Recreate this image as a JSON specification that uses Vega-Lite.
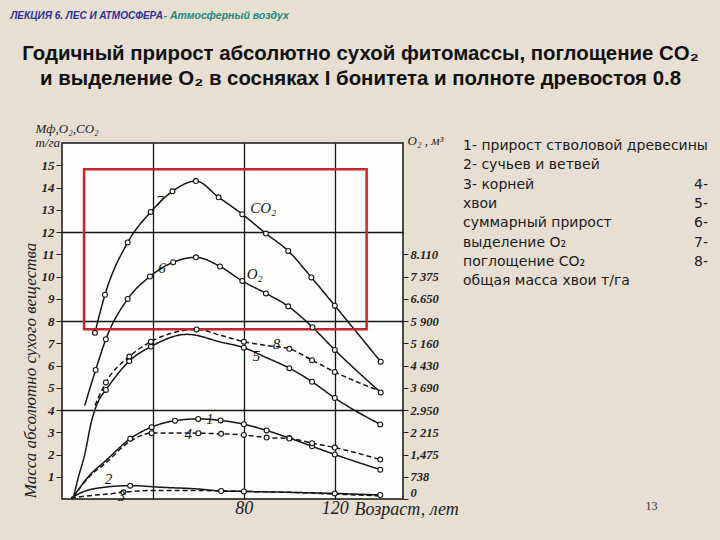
{
  "$schema": "https://vega.github.io/schema/vega-lite/v6.json",
  "autosize": {"type": "none"},
  "width": 341,
  "height": 356,
  "padding": {"left": 62, "top": 143, "right": 317, "bottom": 41},
  "background": "#e7dfd2",
  "config": {
    "view": {"fill": "#fdfdfb", "stroke": "#151515", "strokeWidth": 1.5},
    "axis": {"titleLimit": 1000, "labelLimit": 1000}
  },
  "datasets": {
    "curves": [
      {"s": "1", "age": 5, "v": 0.1, "pt": false},
      {"s": "1", "age": 12, "v": 1.05, "pt": false},
      {"s": "1", "age": 19, "v": 1.7, "pt": false},
      {"s": "1", "age": 30, "v": 2.71, "pt": true},
      {"s": "1", "age": 39.4, "v": 3.23, "pt": true},
      {"s": "1", "age": 49.7, "v": 3.52, "pt": true},
      {"s": "1", "age": 59.9, "v": 3.6, "pt": true},
      {"s": "1", "age": 69.8, "v": 3.53, "pt": true},
      {"s": "1", "age": 80, "v": 3.36, "pt": true},
      {"s": "1", "age": 90, "v": 3.08, "pt": true},
      {"s": "1", "age": 100, "v": 2.74, "pt": true},
      {"s": "1", "age": 110, "v": 2.37, "pt": true},
      {"s": "1", "age": 120, "v": 2.0, "pt": true},
      {"s": "1", "age": 140, "v": 1.32, "pt": true},
      {"s": "2", "age": 4, "v": 0.05, "pt": false},
      {"s": "2", "age": 10, "v": 0.35, "pt": false},
      {"s": "2", "age": 18, "v": 0.52, "pt": false},
      {"s": "2", "age": 30, "v": 0.6, "pt": true},
      {"s": "2", "age": 45, "v": 0.52, "pt": false},
      {"s": "2", "age": 60, "v": 0.45, "pt": false},
      {"s": "2", "age": 70, "v": 0.36, "pt": true},
      {"s": "2", "age": 80, "v": 0.34, "pt": true},
      {"s": "2", "age": 100, "v": 0.3, "pt": false},
      {"s": "2", "age": 120, "v": 0.25, "pt": true},
      {"s": "2", "age": 140, "v": 0.18, "pt": true},
      {"s": "3", "age": 4, "v": 0.03, "pt": false},
      {"s": "3", "age": 12, "v": 0.15, "pt": false},
      {"s": "3", "age": 20, "v": 0.22, "pt": false},
      {"s": "3", "age": 27, "v": 0.3, "pt": true},
      {"s": "3", "age": 40, "v": 0.38, "pt": false},
      {"s": "3", "age": 60, "v": 0.38, "pt": false},
      {"s": "3", "age": 80, "v": 0.34, "pt": false},
      {"s": "3", "age": 100, "v": 0.3, "pt": false},
      {"s": "3", "age": 120, "v": 0.22, "pt": false},
      {"s": "3", "age": 140, "v": 0.14, "pt": false},
      {"s": "4", "age": 5, "v": 0.1, "pt": false},
      {"s": "4", "age": 12, "v": 1.0, "pt": false},
      {"s": "4", "age": 19, "v": 1.6, "pt": false},
      {"s": "4", "age": 30, "v": 2.6, "pt": false},
      {"s": "4", "age": 39.4, "v": 2.96, "pt": true},
      {"s": "4", "age": 49.7, "v": 2.97, "pt": false},
      {"s": "4", "age": 60, "v": 2.96, "pt": true},
      {"s": "4", "age": 70, "v": 2.93, "pt": true},
      {"s": "4", "age": 80, "v": 2.88, "pt": true},
      {"s": "4", "age": 90, "v": 2.76, "pt": true},
      {"s": "4", "age": 100, "v": 2.72, "pt": true},
      {"s": "4", "age": 110, "v": 2.51, "pt": true},
      {"s": "4", "age": 120, "v": 2.31, "pt": true},
      {"s": "4", "age": 140, "v": 1.77, "pt": true},
      {"s": "5", "age": 5, "v": 0.05, "pt": false},
      {"s": "5", "age": 7, "v": 0.9, "pt": false},
      {"s": "5", "age": 10, "v": 2.0, "pt": false},
      {"s": "5", "age": 13, "v": 3.5, "pt": false},
      {"s": "5", "age": 16, "v": 4.4, "pt": false},
      {"s": "5", "age": 19.3, "v": 4.9, "pt": true},
      {"s": "5", "age": 29.6, "v": 6.2, "pt": true},
      {"s": "5", "age": 39.1, "v": 6.85, "pt": true},
      {"s": "5", "age": 55, "v": 7.4, "pt": false},
      {"s": "5", "age": 70, "v": 7.05, "pt": false},
      {"s": "5", "age": 80, "v": 6.8, "pt": true},
      {"s": "5", "age": 90, "v": 6.35, "pt": false},
      {"s": "5", "age": 100, "v": 5.88, "pt": true},
      {"s": "5", "age": 110, "v": 5.27, "pt": true},
      {"s": "5", "age": 120, "v": 4.54, "pt": true},
      {"s": "5", "age": 140, "v": 3.35, "pt": true},
      {"s": "6", "age": 10, "v": 4.2, "pt": false},
      {"s": "6", "age": 14.8, "v": 5.8, "pt": true},
      {"s": "6", "age": 19.3, "v": 7.18, "pt": true},
      {"s": "6", "age": 28.9, "v": 8.99, "pt": true},
      {"s": "6", "age": 38.7, "v": 10.0, "pt": true},
      {"s": "6", "age": 48.9, "v": 10.64, "pt": true},
      {"s": "6", "age": 58.9, "v": 10.86, "pt": true},
      {"s": "6", "age": 69.5, "v": 10.45, "pt": true},
      {"s": "6", "age": 79.3, "v": 9.8, "pt": true},
      {"s": "6", "age": 89.7, "v": 9.24, "pt": true},
      {"s": "6", "age": 99.5, "v": 8.66, "pt": true},
      {"s": "6", "age": 110.2, "v": 7.72, "pt": true},
      {"s": "6", "age": 120, "v": 6.7, "pt": true},
      {"s": "6", "age": 140.2, "v": 4.79, "pt": true},
      {"s": "7", "age": 14.5, "v": 7.47, "pt": true},
      {"s": "7", "age": 18.9, "v": 9.18, "pt": true},
      {"s": "7", "age": 28.9, "v": 11.53, "pt": true},
      {"s": "7", "age": 39, "v": 12.9, "pt": true},
      {"s": "7", "age": 48.6, "v": 13.83, "pt": true},
      {"s": "7", "age": 58.9, "v": 14.29, "pt": true},
      {"s": "7", "age": 68.9, "v": 13.56, "pt": true},
      {"s": "7", "age": 79.3, "v": 12.8, "pt": true},
      {"s": "7", "age": 89.7, "v": 11.93, "pt": true},
      {"s": "7", "age": 99.5, "v": 11.15, "pt": true},
      {"s": "7", "age": 109.7, "v": 9.96, "pt": true},
      {"s": "7", "age": 120, "v": 8.69, "pt": true},
      {"s": "7", "age": 140.2, "v": 6.17, "pt": true},
      {"s": "8", "age": 14.5, "v": 4.2, "pt": false},
      {"s": "8", "age": 19.3, "v": 5.24, "pt": true},
      {"s": "8", "age": 29.6, "v": 6.4, "pt": true},
      {"s": "8", "age": 39.1, "v": 7.07, "pt": true},
      {"s": "8", "age": 59.2, "v": 7.62, "pt": true},
      {"s": "8", "age": 70, "v": 7.35, "pt": false},
      {"s": "8", "age": 80, "v": 7.07, "pt": true},
      {"s": "8", "age": 90, "v": 6.9, "pt": false},
      {"s": "8", "age": 100, "v": 6.75, "pt": true},
      {"s": "8", "age": 110, "v": 6.24, "pt": true},
      {"s": "8", "age": 120, "v": 5.71, "pt": true},
      {"s": "8", "age": 140, "v": 4.85, "pt": false}
    ],
    "numbers": [
      {"t": "7", "age": 43, "v": 13.4},
      {"t": "6", "age": 44, "v": 10.4},
      {"t": "8", "age": 94.4, "v": 6.95},
      {"t": "5", "age": 85.6, "v": 6.43},
      {"t": "1", "age": 65, "v": 3.6},
      {"t": "4", "age": 55.5, "v": 2.93},
      {"t": "2", "age": 20.4, "v": 0.88},
      {"t": "3", "age": 26.2, "v": 0.13}
    ],
    "gases": [
      {"t": "CO₂", "age": 88.5, "v": 13.1},
      {"t": "O₂", "age": 84.8, "v": 10.1}
    ],
    "box": [
      {"age_from": 9.7, "age_to": 134, "val_from": 7.63, "val_to": 14.82}
    ]
  },
  "resolve": {"scale": {"x": "independent", "y": "independent"}},
  "layer": [
    {
      "data": {"name": "curves"},
      "mark": {"type": "line", "interpolate": "monotone", "strokeWidth": 1.5},
      "encoding": {
        "x": {
          "field": "age", "type": "quantitative",
          "scale": {"domain": [0, 150], "nice": false},
          "axis": {
            "values": [40, 80, 120], "grid": true, "gridColor": "#151515", "gridWidth": 1.3,
            "ticks": false, "domain": false,
            "labelExpr": "datum.value === 40 ? '' : datum.label",
            "labelFont": "Liberation Serif", "labelFontStyle": "italic", "labelFontWeight": "normal",
            "labelFontSize": 18, "labelColor": "#222", "labelPadding": 0,
            "title": "Возраст, лет", "titleX": 292, "titleY": 10, "titleAlign": "left", "titleBaseline": "middle",
            "titleFont": "Liberation Serif", "titleFontStyle": "italic", "titleFontWeight": "normal",
            "titleFontSize": 18, "titleColor": "#222"
          }
        },
        "y": {
          "field": "v", "type": "quantitative",
          "scale": {"domain": [0, 16], "nice": false},
          "axis": {
            "values": [1, 2, 3, 4, 5, 6, 7, 8, 9, 10, 11, 12, 13, 14, 15],
            "grid": true, "gridColor": "#151515", "gridWidth": 1.3,
            "gridOpacity": {"condition": {"test": "datum.value % 4 === 0", "value": 1}, "value": 0},
            "tickSize": 6, "tickColor": "#222", "domain": false,
            "labelFont": "Liberation Serif", "labelFontStyle": "italic", "labelFontWeight": "bold",
            "labelFontSize": 13, "labelPadding": 2, "labelColor": "#222",
            "title": null
          }
        },
        "color": {
          "field": "s", "type": "nominal",
          "scale": {"domain": ["1", "2", "3", "4", "5", "6", "7", "8"], "range": ["#151515", "#151515", "#151515", "#151515", "#151515", "#151515", "#151515", "#151515"]},
          "legend": {
            "orient": "none", "legendX": 387, "legendY": -4, "title": null,
            "symbolOpacity": 0, "symbolSize": 0, "symbolStrokeWidth": 0, "labelOffset": 0,
            "padding": 0, "rowPadding": 5.3,
            "labelFont": "DejaVu Sans", "labelFontSize": 14, "labelColor": "#1b1b1b", "labelLimit": 400,
            "labelExpr": "['1- прирост стволовой древесины','2- сучьев и ветвей','3- корней','хвои','суммарный прирост','выделение O₂','поглощение CO₂','общая масса хвои т/га'][toNumber(datum.value)-1]"
          }
        },
        "strokeDash": {
          "field": "s", "type": "nominal",
          "scale": {"range": [[1, 0], [1, 0], [5, 3], [5, 3], [1, 0], [1, 0], [1, 0], [5, 3]]},
          "legend": {
            "orient": "none", "legendX": 618, "legendY": 34.6, "title": null,
            "values": ["4", "5", "6", "7", "8"],
            "symbolOpacity": 0, "symbolSize": 0, "symbolStrokeWidth": 0, "labelOffset": 0,
            "padding": 0, "rowPadding": 5.3,
            "labelFont": "DejaVu Sans", "labelFontSize": 14, "labelColor": "#1b1b1b",
            "labelExpr": "datum.label + '-'"
          }
        }
      }
    },
    {
      "data": {"name": "box"},
      "mark": {"type": "rect", "filled": false, "color": "#c8262c", "strokeWidth": 2.5},
      "encoding": {
        "x": {
          "field": "age_from", "type": "quantitative",
          "scale": {"domain": [0, 150], "nice": false},
          "axis": {
            "orient": "top", "labels": false, "ticks": false, "domain": false, "grid": false,
            "title": "-  Атмосферный воздух", "titleX": 101, "titleY": -128, "titleAlign": "left", "titleBaseline": "middle",
            "titleFont": "Liberation Sans", "titleFontStyle": "italic", "titleFontWeight": "bold",
            "titleFontSize": 10.5, "titleColor": "#1c8a7c"
          }
        },
        "x2": {"field": "age_to"},
        "y": {
          "field": "val_from", "type": "quantitative",
          "scale": {"domain": [0, 16], "nice": false},
          "axis": {
            "orient": "right", "values": [0, 1, 2, 3, 4, 5, 6, 7, 8, 9, 10, 11],
            "labelExpr": "['0','738','1,475','2 215','2.950','3 690','4 430','5 160','5 900','6.650','7 375','8.110'][datum.value]",
            "labelBaseline": {"condition": {"test": "datum.value === 0", "value": "bottom"}, "value": "middle"},
            "grid": false, "domain": false, "tickSize": 5, "tickColor": "#222",
            "labelFont": "Liberation Serif", "labelFontStyle": "italic", "labelFontWeight": "bold",
            "labelFontSize": 12.5, "labelPadding": 2, "labelColor": "#222",
            "title": "O₂ , м³", "titleAngle": 0, "titleX": 4, "titleY": -3, "titleAlign": "left", "titleBaseline": "middle",
            "titleFont": "Liberation Serif", "titleFontStyle": "italic", "titleFontWeight": "normal",
            "titleFontSize": 13, "titleColor": "#222"
          }
        },
        "y2": {"field": "val_to"}
      }
    },
    {
      "data": {"name": "curves"},
      "transform": [{"filter": "datum.pt"}],
      "mark": {"type": "point", "filled": true, "fill": "#fdfdfb", "stroke": "#151515", "strokeWidth": 1.1, "size": 24, "opacity": 1},
      "encoding": {
        "x": {
          "field": "age", "type": "quantitative",
          "scale": {"domain": [0, 150], "nice": false},
          "axis": {
            "orient": "top", "labels": false, "ticks": false, "domain": false, "grid": false,
            "title": "ЛЕКЦИЯ 6. ЛЕС И АТМОСФЕРА", "titleX": -52, "titleY": -128, "titleAlign": "left", "titleBaseline": "middle",
            "titleFont": "Liberation Sans", "titleFontStyle": "italic", "titleFontWeight": "bold",
            "titleFontSize": 10, "titleColor": "#2d2f9e"
          }
        },
        "y": {
          "field": "v", "type": "quantitative",
          "scale": {"domain": [0, 16], "nice": false},
          "axis": {
            "orient": "left", "labels": false, "ticks": false, "domain": false, "grid": false,
            "title": ["Мф,O₂,CO₂", "т/га"], "titleAngle": 0, "titleX": -27, "titleY": -21, "titleAlign": "left", "titleBaseline": "top",
            "titleLineHeight": 14.5,
            "titleFont": "Liberation Serif", "titleFontStyle": "italic", "titleFontWeight": "normal",
            "titleFontSize": 13, "titleColor": "#222"
          }
        }
      }
    },
    {
      "data": {"name": "numbers"},
      "mark": {"type": "text", "font": "Liberation Serif", "fontStyle": "italic", "fontSize": 15, "color": "#151515"},
      "encoding": {
        "x": {
          "field": "age", "type": "quantitative",
          "scale": {"domain": [0, 150], "nice": false},
          "axis": {
            "orient": "bottom", "labels": false, "ticks": false, "domain": false, "grid": false,
            "title": "13", "titleX": 589, "titleY": 6, "titleAlign": "center", "titleBaseline": "middle",
            "titleFont": "Liberation Serif", "titleFontWeight": "normal", "titleFontSize": 12, "titleColor": "#333"
          }
        },
        "y": {
          "field": "v", "type": "quantitative",
          "scale": {"domain": [0, 16], "nice": false},
          "axis": {
            "orient": "left", "labels": false, "ticks": false, "domain": false, "grid": false,
            "title": "Масса абсолютно сухого вещества", "titleAngle": -90, "titleX": -32, "titleY": 227,
            "titleAlign": "center", "titleBaseline": "middle",
            "titleFont": "Liberation Serif", "titleFontStyle": "italic", "titleFontWeight": "normal",
            "titleFontSize": 17, "titleColor": "#222"
          }
        },
        "text": {"field": "t", "type": "nominal"}
      }
    },
    {
      "data": {"name": "gases"},
      "mark": {"type": "text", "font": "Liberation Serif", "fontStyle": "italic", "fontSize": 15, "color": "#151515"},
      "encoding": {
        "x": {
          "field": "age", "type": "quantitative",
          "scale": {"domain": [0, 150], "nice": false},
          "axis": {
            "orient": "top", "labels": false, "ticks": false, "domain": false, "grid": false,
            "title": ["Годичный прирост абсолютно сухой фитомассы, поглощение CO₂", "и выделение O₂ в сосняках I бонитета и полноте древостоя 0.8"],
            "titleX": 298, "titleY": -100, "titleAlign": "center", "titleBaseline": "top", "titleLineHeight": 25,
            "titleFont": "Liberation Sans", "titleFontWeight": "bold",
            "titleFontSize": 20.4, "titleColor": "#111"
          }
        },
        "y": {
          "field": "v", "type": "quantitative",
          "scale": {"domain": [0, 16], "nice": false},
          "axis": null
        },
        "text": {"field": "t", "type": "nominal"}
      }
    }
  ]
}
